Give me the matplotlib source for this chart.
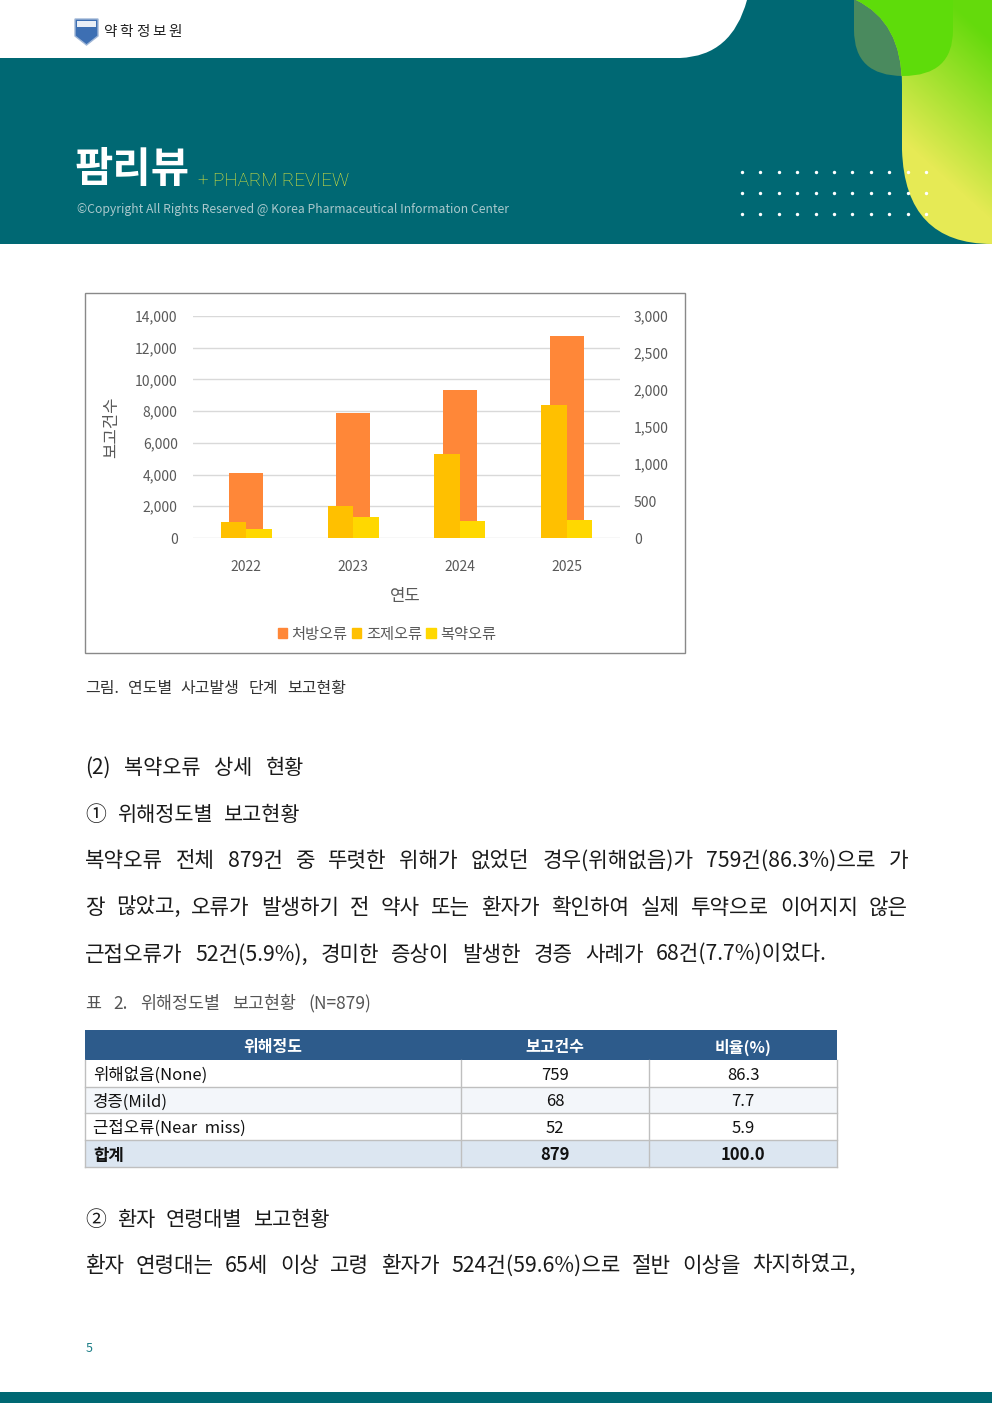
import numpy as np
import matplotlib.pyplot as plt
from matplotlib.path import Path
from matplotlib.patches import PathPatch, Rectangle, Patch
from matplotlib.ticker import FuncFormatter

plt.rcParams['font.family'] = ['Noto Sans CJK KR', 'DejaVu Sans']

# chart data
years = ['2022', '2023', '2024', '2025']
prescribing = [4130, 7910, 9360, 12760]   # 처방오류, left axis
dispensing = [210, 430, 1130, 1800]       # 조제오류, right axis
medication = [115, 290, 225, 250]         # 복약오류, right axis
series_names = ['처방오류', '조제오류', '복약오류']

# table data
severity = ['위해없음(None)', '경증(Mild)', '근접오류(Near  miss)']
counts = [759, 68, 52]
ratios = ['86.3', '7.7', '5.9']
total_label, total_count, total_ratio = '합계', 879, '100.0'
table_head = ['위해정도', '보고건수', '비율(%)']

body_lines = [
    '복약오류 전체 879건 중 뚜렷한 위해가 없었던 경우(위해없음)가 759건(86.3%)으로 가',
    '장 많았고, 오류가 발생하기 전 약사 또는 환자가 확인하여 실제 투약으로 이어지지 않은',
    '근접오류가 52건(5.9%), 경미한 증상이 발생한 경증 사례가 68건(7.7%)이었다.',
]
last_line = '환자 연령대는 65세 이상 고령 환자가 524건(59.6%)으로 절반 이상을 차지하였고,'

W, H = 992, 1403
TEAL = '#006873'
DY = 2  # matplotlib centres text a little high for Hangul
fig = plt.figure(figsize=(W / 100, H / 100), dpi=100)
page = fig.add_axes([0, 0, 1, 1])
page.set_xlim(0, W)
page.set_ylim(H, 0)
page.axis('off')
renderer = fig.canvas.get_renderer()


def justify(text, x0, x1, y, size, color='#1a1a1a', weight='normal', sep=' '):
    words = text.split(sep) if sep else list(text)
    arts = [page.text(0, y + DY, w, fontsize=size, color=color, weight=weight,
                      va='center', ha='left', zorder=4) for w in words]
    widths = [a.get_window_extent(renderer).width for a in arts]
    gap = (x1 - x0 - sum(widths)) / max(len(words) - 1, 1)
    x = x0
    for a, w in zip(arts, widths):
        a.set_x(x)
        x += w + gap


# ---- header banner ----
page.add_patch(Rectangle((0, 0), W, 244, color=TEAL, lw=0))
white_top = Path([(0, 0), (747, 0), (732, 56), (680, 58), (0, 58), (0, 0)],
                 [Path.MOVETO, Path.LINETO, Path.CURVE3, Path.CURVE3, Path.LINETO, Path.CLOSEPOLY])
page.add_patch(PathPatch(white_top, color='white', lw=0))

blob = Path([(854, 0), (854, 30), (854, 76), (903, 76), (953, 76), (953, 30), (953, 0), (854, 0)],
            [Path.MOVETO, Path.LINETO, Path.CURVE3, Path.CURVE3, Path.CURVE3, Path.CURVE3,
             Path.LINETO, Path.CLOSEPOLY])
page.add_patch(PathPatch(blob, color='#4a8a5e', lw=0))

big = Path([(856, 0), (902, 22), (902, 85), (902, 150), (905, 244), (992, 244), (992, 0), (856, 0)],
           [Path.MOVETO, Path.CURVE3, Path.CURVE3, Path.LINETO, Path.CURVE3, Path.CURVE3,
            Path.LINETO, Path.CLOSEPOLY])
big_patch = PathPatch(big, facecolor='none', lw=0)
page.add_patch(big_patch)
gx, gy = np.meshgrid(np.arange(850, 993), np.arange(0, 245))
t = np.clip((gy + 0.9 * (992 - gx) - 40) / 180, 0, 1)[..., None]
c0 = np.array([100, 218, 12]) / 255
c1 = np.array([230, 234, 85]) / 255
grad = c0 * (1 - t) + c1 * t
im = page.imshow(grad, extent=[850, 993, 245, 0], origin='upper', aspect='auto', zorder=1)
im.set_clip_path(big_patch)
bright = PathPatch(blob, color='#5edc0a', lw=0, zorder=1.5)
page.add_patch(bright)
bright.set_clip_path(big_patch)
page.set_xlim(0, W)
page.set_ylim(H, 0)

dx, dy = np.meshgrid(np.linspace(742, 926, 11), [172, 193, 214])
page.scatter(dx.ravel(), dy.ravel(), s=6, color='white', lw=0, zorder=3)

# logo
shield = Path([(75, 19), (98, 19), (98, 36), (86.5, 45), (75, 36), (75, 19)],
              [Path.MOVETO, Path.LINETO, Path.LINETO, Path.LINETO, Path.LINETO, Path.CLOSEPOLY])
page.add_patch(PathPatch(shield, facecolor='#3d6fb3', edgecolor='#9fb6d6', lw=1))
page.add_patch(Rectangle((77, 21), 19, 6, color='#e8eef6', lw=0))
justify('약학정보원', 103, 182, 30, 10.5, color='#222222', sep=None)

page.text(75, 170, '팜리뷰', fontsize=30, weight='bold', color='white', va='center', zorder=4)
page.text(198, 181, '+ PHARM REVIEW', fontsize=13.6, color='#e3e83c', va='center',
          family=['Roboto', 'Noto Sans CJK KR', 'DejaVu Sans'], weight='light', zorder=4)
page.text(77, 210, '©Copyright All Rights Reserved @ Korea Pharmaceutical Information Center',
          fontsize=8.8, color='#a9c8cc', va='center', zorder=4)

# ---- chart ----
page.add_patch(Rectangle((85, 293), 600, 360, facecolor='white', edgecolor='#898989', lw=1))
ax = fig.add_axes([193 / W, 1 - 538 / H, 427 / W, 222 / H])
ax.patch.set_alpha(0)
x = np.arange(len(years))
ax.bar(x, prescribing, 0.32, color='#ff8738', zorder=2)
ax.set_xlim(-0.5, 3.5)
ax.set_ylim(0, 14000)
ax.set_yticks(range(0, 14001, 2000))
ax.yaxis.set_major_formatter(FuncFormatter(lambda v, p: f'{int(v):,}'))
ax.set_xticks(x, years)
ax.grid(axis='y', color='#d9d9d9', lw=1)
ax.set_axisbelow(True)
ax.tick_params(length=0, colors='#595959', labelsize=10)
ax.tick_params(axis='y', pad=11)
ax.tick_params(axis='x', pad=16)
for s in ax.spines.values():
    s.set_visible(False)

ax2 = ax.twinx()
ax2.bar(x - 0.12, dispensing, 0.24, color='#ffc000', zorder=2)
ax2.bar(x + 0.12, medication, 0.24, color='#ffd800', zorder=2)
ax2.set_ylim(0, 3000)
ax2.set_yticks(range(0, 3001, 500))
ax2.yaxis.set_major_formatter(FuncFormatter(lambda v, p: f'{int(v):,}'))
ax2.tick_params(length=0, colors='#595959', labelsize=10, pad=10)
for s in ax2.spines.values():
    s.set_visible(False)

page.text(112, 427, '보고건수', rotation=90, fontsize=12, color='#595959', ha='center', va='center')
page.text(405, 594 + DY, '연도', fontsize=12, color='#595959', ha='center', va='center')
handles = [Patch(color=c) for c in ['#ff8738', '#ffc000', '#ffd800']]
fig.legend(handles, series_names, loc='center', bbox_to_anchor=(387 / W, 1 - (632 + DY) / H),
           ncol=3, frameon=False, fontsize=11, labelcolor='#595959',
           handlelength=0.6, handleheight=0.6, handletextpad=0.3, columnspacing=0.3)

# ---- text ----
justify('그림. 연도별 사고발생 단계 보고현황', 85, 346, 687, 11.5, color='#333333')
justify('(2) 복약오류 상세 현황', 85, 304, 766, 15)
justify('① 위해정도별 보고현황', 85, 300, 813, 15)
for line, y, x1 in zip(body_lines, [859, 906, 953], [908, 908, 827]):
    justify(line, 85, x1, y, 15.3)
justify('표 2. 위해정도별 보고현황 (N=879)', 85, 371, 1002, 12.5, color='#555555')

# ---- table ----
cols = [85, 461, 649, 837]
rows = [1030, 1060, 1087, 1113, 1140, 1167]
page.add_patch(Rectangle((85, rows[0]), 752, rows[1] - rows[0], color='#2d5b8b', lw=0))
page.add_patch(Rectangle((85, rows[2]), 752, rows[3] - rows[2], color='#f3f6fa', lw=0))
page.add_patch(Rectangle((85, rows[4]), 752, rows[5] - rows[4], color='#dce6f1', lw=0))
for yy in rows[2:]:
    page.plot([85, 837], [yy, yy], color='#bfbfbf', lw=1)
for xx in cols:
    page.plot([xx, xx], [rows[1], rows[5]], color='#bfbfbf', lw=1)
centers = [(cols[i] + cols[i + 1]) / 2 for i in range(3)]
for c, h in zip(centers, table_head):
    page.text(c, (rows[0] + rows[1]) / 2 + DY, h, fontsize=11.5, color='white', weight='bold',
              ha='center', va='center')
for i, (name, n, r) in enumerate(zip(severity, counts, ratios)):
    yc = (rows[i + 1] + rows[i + 2]) / 2 + DY
    page.text(93, yc, name, fontsize=12, color='#111111', va='center')
    page.text(centers[1], yc, str(n), fontsize=12, color='#111111', ha='center', va='center')
    page.text(centers[2], yc, r, fontsize=12, color='#111111', ha='center', va='center')
yc = (rows[4] + rows[5]) / 2 + DY
page.text(93, yc, total_label, fontsize=12, weight='bold', color='#111111', va='center')
page.text(centers[1], yc, str(total_count), fontsize=12, weight='bold', color='#111111',
          ha='center', va='center')
page.text(centers[2], yc, total_ratio, fontsize=12, weight='bold', color='#111111',
          ha='center', va='center')

justify('② 환자 연령대별 보고현황', 85, 330, 1218, 15)
justify(last_line, 85, 856, 1264, 15.3)

page.text(89, 1347 + DY, '5', fontsize=9, color='#1a7d86', ha='center', va='center')
page.add_patch(Rectangle((0, 1392), W, 11, color=TEAL, lw=0))

fig.savefig('out.png', dpi=100)
